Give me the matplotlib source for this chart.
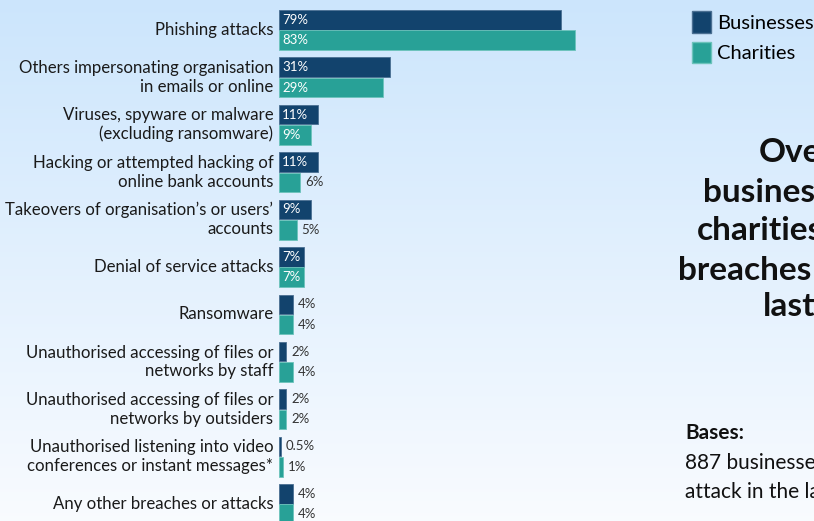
import numpy as np
import matplotlib.pyplot as plt
from matplotlib.patches import Patch

# categories and percentages (businesses vs charities)
categories = [
    "Phishing attacks",
    "Others impersonating organisation\nin emails or online",
    "Viruses, spyware or malware\n(excluding ransomware)",
    "Hacking or attempted hacking of\nonline bank accounts",
    "Takeovers of organisation\u2019s or users\u2019\naccounts",
    "Denial of service attacks",
    "Ransomware",
    "Unauthorised accessing of files or\nnetworks by staff",
    "Unauthorised accessing of files or\nnetworks by outsiders",
    "Unauthorised listening into video\nconferences or instant messages*",
    "Any other breaches or attacks",
]
businesses = [79, 31, 11, 11, 9, 7, 4, 2, 2, 0.5, 4]
charities = [83, 29, 9, 6, 5, 7, 4, 4, 2, 1, 4]
series_names = ["Businesses", "Charities"]

navy = "#12436d"
teal = "#28a197"
label_font = "Lato"
side_font = "Lato"

W, H = 814, 521
fig = plt.figure(figsize=(W / 100, H / 100), dpi=100)

# soft blue-to-white background
bg = fig.add_axes([0, 0, 1, 1])
bg.set_axis_off()
top = np.array([0.80, 0.90, 0.99])
bottom = np.array([0.975, 0.985, 1.0])
t = np.linspace(0, 1, 256)[:, None]
grad = top * (1 - t) + bottom * t
bg.imshow(grad[:, None, :].repeat(2, axis=1), aspect="auto", extent=[0, 1, 0, 1])
bg.set_xlim(0, 1)
bg.set_ylim(0, 1)

# bar chart area
x0 = 279 / W
ax = fig.add_axes([x0, -0.0129, 357 / W, 1.0008])
ax.patch.set_alpha(0)
y = np.arange(len(categories))
h = 0.41
off = 0.215
b1 = ax.barh(y - off, businesses, height=h, color=navy, edgecolor="#4a6f92", linewidth=0.6)
b2 = ax.barh(y + off, charities, height=h, color=teal, edgecolor="#6cc3bb", linewidth=0.6)
ax.set_xlim(0, 100)
ax.set_ylim(len(categories) - 0.5, -0.5)
ax.set_axis_off()

def pct(v):
    return f"{v:g}%"

for vals, yy in ((businesses, y - off), (charities, y + off)):
    for v, yc in zip(vals, yy):
        if v >= 7:
            ax.text(0.9, yc, pct(v), color="white", va="center", ha="left",
                    fontsize=9.5, family=label_font)
        else:
            ax.annotate(pct(v), (v, yc), xytext=(3.5, 0), textcoords="offset points",
                        color="#333333", va="center", ha="left",
                        fontsize=9.5, family=label_font)

for cat, yc in zip(categories, y):
    ax.text(-1.6, yc, cat, ha="right", va="center", fontsize=12.1,
            family=label_font, color="#1a1a1a", linespacing=1.2)

# legend
handles = [Patch(facecolor=navy, edgecolor="#4a6f92"), Patch(facecolor=teal, edgecolor="#6cc3bb")]
fig.legend(handles, series_names, loc="upper left", bbox_to_anchor=(674 / W, 1 + 7 / H),
           frameon=False, handlelength=0.95, handleheight=1.3, handletextpad=0.3,
           labelspacing=0.42, prop={"family": label_font, "size": 14.5})

# side text (runs off the right edge)
side_lines = [("Over", 759, 153), ("businesses", 703, 192), ("charities", 697, 230),
              ("breaches", 678, 270), ("last", 763, 307)]
for s, px, py in side_lines:
    fig.text(px / W, 1 - py / H, s, ha="left", va="center", fontsize=24,
             fontweight="bold", family=side_font, color="#111111")

fig.text(685 / W, 1 - 433 / H, "Bases:", ha="left", va="center", fontsize=15,
         fontweight="bold", family=side_font, color="#111111")
fig.text(685 / W, 1 - 463 / H, "887 businesses", ha="left", va="center", fontsize=15,
         family=side_font, color="#111111")
fig.text(685 / W, 1 - 492 / H, "attack in the last", ha="left", va="center", fontsize=15,
         family=side_font, color="#111111")

fig.savefig("out.png", dpi=100)
